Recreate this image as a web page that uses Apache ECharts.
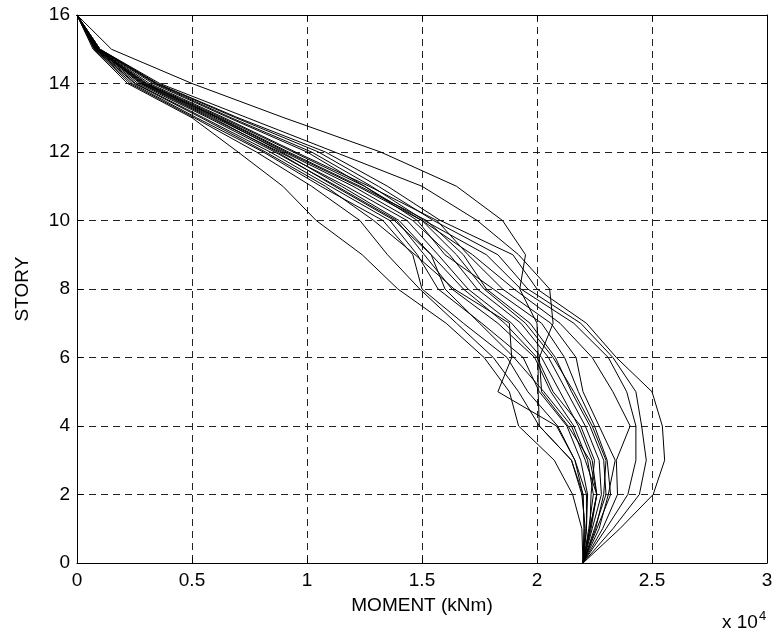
<!DOCTYPE html>
<html>
<head>
<meta charset="utf-8">
<script src="https://cdn.jsdelivr.net/npm/echarts@6/dist/echarts.min.js"></script>
<style>
  html, body { margin: 0; padding: 0; background: #fff; }
  #chart { width: 780px; height: 632px; }
</style>
</head>
<body>
<div id="chart"></div>
<script>
// Story levels, ground (0) to roof (16)
const stories = [0, 1, 2, 3, 4, 5, 6, 7, 8, 9, 10, 11, 12, 13, 14, 15, 16];

// Tick labels (moment axis is shown in units of 10^4 kNm)
const xTickLabels = ['0', '0.5', '1', '1.5', '2', '2.5', '3'];
const yTickLabels = ['0', '2', '4', '6', '8', '10', '12', '14', '16'];

// Moment envelopes per record (kNm), listed story 0 .. 16
const recordL1 = [22000, 21950, 21550, 20750, 19200, 18800, 17700, 16050, 13950, 12400, 10400, 8950, 7000, 5000, 2200, 700, 0];
const recordL2 = [22000, 22100, 21950, 21500, 20100, 19200, 18100, 16500, 14900, 13500, 12300, 10200, 7800, 5100, 2300, 750, 0];
const recordK1 = [22000, 22150, 22150, 21650, 20850, 18300, 18900, 18800, 16400, 14700, 12900, 10800, 8200, 5400, 2500, 800, 0];
const recordM1 = [22000, 22050, 22000, 21650, 20900, 19600, 18700, 16800, 15000, 14600, 13300, 10600, 8100, 5200, 2400, 760, 0];
const recordM2 = [22000, 22150, 22200, 21900, 21300, 20100, 19400, 17600, 15700, 14800, 13600, 11000, 8400, 5500, 2550, 800, 0];
const recordM3 = [22000, 22250, 22450, 22200, 21600, 20600, 19900, 18300, 16300, 15100, 13900, 11300, 8600, 5700, 2650, 820, 0];
const recordM4 = [22000, 22300, 22600, 22400, 21800, 21000, 20200, 18900, 17000, 15700, 14350, 11700, 8800, 5800, 2750, 850, 0];
const recordM5 = [22000, 22400, 22800, 22700, 22100, 21300, 20500, 19300, 17400, 16200, 14600, 12000, 9000, 6000, 2850, 880, 0];
const recordM6 = [22000, 22500, 23000, 22900, 22300, 21500, 20800, 19700, 17800, 16800, 15200, 12300, 9200, 6200, 2950, 900, 0];
const recordM7 = [22000, 22600, 23200, 23050, 22500, 21800, 21200, 20200, 18100, 16000, 14800, 12500, 9400, 6300, 3050, 920, 0];
const recordM8 = [22000, 22300, 22350, 22500, 21900, 20700, 20000, 18600, 16800, 15400, 14000, 11500, 8900, 6100, 2900, 870, 0];
const recordM9 = [22000, 22700, 23100, 23400, 22700, 22000, 21700, 20600, 18500, 17000, 15650, 12700, 9500, 6400, 3150, 950, 0];
const recordM10 = [22000, 22350, 22600, 22100, 21500, 20300, 19000, 17500, 16000, 15400, 13800, 11200, 8700, 5900, 2800, 860, 0];
const recordM11 = [22000, 22550, 22900, 23000, 22400, 21600, 20700, 19500, 17700, 16500, 15000, 12200, 9100, 6150, 3000, 900, 0];
const recordA = [22000, 22050, 22000, 21500, 20100, 20050, 20050, 20000, 19250, 19500, 18500, 16500, 13200, 9000, 5000, 1500, 0];
const recordB = [22000, 22300, 22600, 22300, 21350, 20200, 20100, 20700, 20550, 19200, 17400, 15000, 11200, 7400, 3600, 1000, 0];
const recordR1 = [22000, 23600, 25050, 25550, 25450, 25000, 23450, 22150, 20000, 18950, 15800, 13500, 10800, 7000, 3500, 1000, 0];
const recordR2 = [22000, 23300, 24450, 24750, 24550, 24300, 23300, 21900, 19600, 18300, 15500, 13100, 10500, 6900, 3450, 1000, 0];
const recordR3 = [22000, 23000, 23950, 24300, 24300, 23900, 23100, 21600, 19300, 17800, 15100, 12800, 10200, 6700, 3400, 950, 0];
const recordR4 = [22000, 22850, 23500, 23450, 24050, 23300, 22400, 21000, 19000, 17200, 15000, 12500, 10000, 6600, 3300, 950, 0];

const records = [
  recordL1, recordL2, recordK1, recordM1, recordM2, recordM3, recordM4,
  recordM5, recordM6, recordM7, recordM8, recordM9, recordM10, recordM11,
  recordA, recordB, recordR1, recordR2, recordR3, recordR4
];

const FONT = '"Liberation Sans", Arial, Helvetica, sans-serif';
const INK = '#000';

const series = records.map(function (vals) {
  return {
    type: 'line',
    data: vals.map(function (m, i) { return [m, stories[i]]; }),
    showSymbol: false,
    symbol: 'none',
    silent: true,
    animation: false,
    lineStyle: { color: '#000', width: 1 }
  };
});

const dashedGrid = { show: true, lineStyle: { color: '#222', width: 1, type: [7, 5] } };
const frameLine = { show: true, onZero: false, lineStyle: { color: INK, width: 1 } };
const innerTick = { show: true, inside: true, length: 6, lineStyle: { color: INK } };

const chart = echarts.init(document.getElementById('chart'), null, { renderer: 'canvas' });
chart.setOption({
  backgroundColor: '#fff',
  animation: false,
  grid: { left: 77, right: 13, top: 15, bottom: 69, containLabel: false },
  xAxis: [
    {
      type: 'value', min: 0, max: 30000, interval: 5000, position: 'bottom',
      name: 'MOMENT (kNm)', nameLocation: 'middle', nameGap: 33,
      nameTextStyle: { color: INK, fontSize: 19, fontFamily: FONT },
      axisLine: frameLine, axisTick: innerTick, splitLine: dashedGrid,
      axisLabel: {
        color: INK, fontSize: 19, fontFamily: FONT, margin: 8,
        formatter: function (v) { return xTickLabels[Math.round(v / 5000)]; }
      }
    },
    {
      type: 'value', min: 0, max: 30000, interval: 5000, position: 'top',
      axisLine: frameLine, axisTick: innerTick, splitLine: { show: false },
      axisLabel: { show: false }
    }
  ],
  yAxis: [
    {
      type: 'value', min: 0, max: 16, interval: 2, position: 'left',
      name: 'STORY', nameLocation: 'middle', nameGap: 45, nameRotate: 90,
      nameTextStyle: { color: INK, fontSize: 19, fontFamily: FONT },
      axisLine: frameLine, axisTick: innerTick, splitLine: dashedGrid,
      axisLabel: {
        color: INK, fontSize: 19, fontFamily: FONT, margin: 7,
        formatter: function (v) { return yTickLabels[Math.round(v / 2)]; }
      }
    },
    {
      type: 'value', min: 0, max: 16, interval: 2, position: 'right',
      axisLine: frameLine, axisTick: innerTick, splitLine: { show: false },
      axisLabel: { show: false }
    }
  ],
  graphic: [
    {
      type: 'text', left: 722, top: 610,
      style: {
        text: '{b|x 10}{s|4}',
        rich: {
          b: { fontSize: 19, fontFamily: FONT, fill: INK, verticalAlign: 'bottom', lineHeight: 22 },
          s: { fontSize: 13, fontFamily: FONT, fill: INK, verticalAlign: 'top', lineHeight: 22, padding: [0, 0, 10, 1] }
        }
      }
    }
  ],
  series: series
});
</script>
</body>
</html>
